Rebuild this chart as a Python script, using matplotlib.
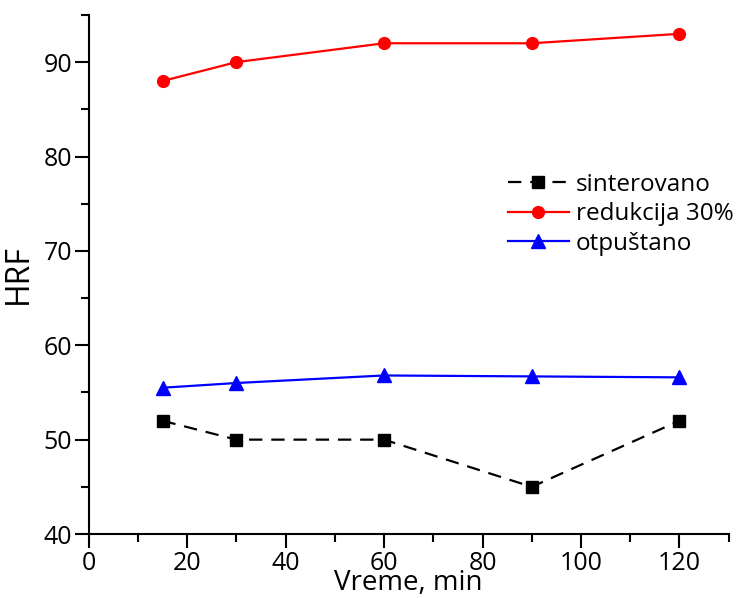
import matplotlib
matplotlib.use("Agg")
import matplotlib.pyplot as plt
from matplotlib.ticker import MultipleLocator

plt.rcParams['font.family'] = ['Open Sans', 'DejaVu Sans']

time_min = [15, 30, 60, 90, 120]
sinterovano = [52, 50, 50, 45, 52]
redukcija = [88, 90, 92, 92, 93]
otpustano = [55.5, 56, 56.8, 56.7, 56.6]

fig = plt.figure(figsize=(7.39, 5.98), dpi=100)
ax = fig.add_axes([0.120, 0.107, 0.866, 0.868])

ax.plot(time_min, sinterovano, color='black', ls=(0, (6, 4)), lw=1.6,
        marker='s', ms=8, label='sinterovano')
ax.plot(time_min, redukcija, color='red', lw=1.6,
        marker='o', ms=8.5, label='redukcija 30%')
ax.plot(time_min, otpustano, color='blue', lw=1.6,
        marker='^', ms=10, label='otpuštano')

ax.set_xlim(0, 130)
ax.set_ylim(40, 95)
ax.xaxis.set_major_locator(MultipleLocator(20))
ax.xaxis.set_minor_locator(MultipleLocator(10))
ax.yaxis.set_major_locator(MultipleLocator(10))
ax.yaxis.set_minor_locator(MultipleLocator(5))
ax.spines['top'].set_visible(False)
ax.spines['right'].set_visible(False)
for s in ('left', 'bottom'):
    ax.spines[s].set_linewidth(1.5)
ax.tick_params(which='major', direction='out', length=10, width=1.5,
               labelsize=18, pad=2)
ax.tick_params(which='minor', direction='out', length=6, width=1.5)

ax.set_xlabel('Vreme, min', fontsize=20, labelpad=-5)
ax.set_ylabel('HRF', fontsize=23, labelpad=6)

ax.legend(loc='upper left', bbox_to_anchor=(508 / 739, 1 - 173 / 598),
          bbox_transform=fig.transFigure, frameon=False, borderpad=0,
          borderaxespad=0, fontsize=17.5, handlelength=2.5,
          handletextpad=0.3, labelspacing=0.22)

fig.savefig('out.png', dpi=100)
